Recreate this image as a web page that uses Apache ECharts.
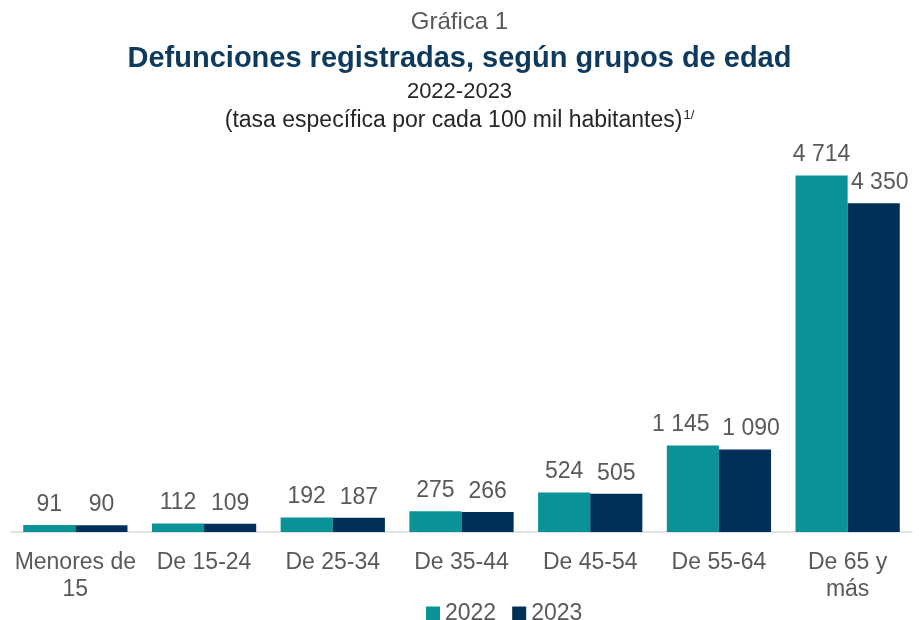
<!DOCTYPE html>
<html>
<head>
<meta charset="utf-8">
<script src="https://cdn.jsdelivr.net/npm/echarts@6/dist/echarts.min.js"></script>
<style>
  html, body { margin: 0; padding: 0; background: #fff; }
  #chart { width: 919px; height: 620px; }
</style>
</head>
<body>
<div id="chart"></div>
<script>
  // datos
  const categorias = ['Menores de\n15', 'De 15-24', 'De 25-34', 'De 35-44', 'De 45-54', 'De 55-64', 'De 65 y\nmás']
  const valores2022 = [91, 112, 192, 275, 524, 1145, 4714]
  const valores2023 = [90, 109, 187, 266, 505, 1090, 4350]

  const fuente = 'Liberation Sans, Arial, sans-serif'
  const formato = v => String(v).replace(/\B(?=(\d{3})+(?!\d))/g, ' ')

  // separa un poco las etiquetas que se encimarian
  const conDesplazamiento = (valores, desplaza) => valores.map((v, i) => {
    const dx = desplaza(i)
    return dx ? { value: v, label: { offset: [dx, 0] } } : v
  })

  const chart = echarts.init(document.getElementById('chart'))
  const etiqueta = {
    show: true,
    position: 'top',
    distance: 9,
    color: '#595959',
    fontSize: 23,
    fontFamily: fuente,
    formatter: p => formato(p.value)
  }
  const option = {
    animation: false,
    title: [
      { text: 'Gráfica 1', left: 'center', top: 5, textStyle: { fontSize: 24, fontWeight: 'normal', color: '#595959', fontFamily: fuente } },
      { text: 'Defunciones registradas, según grupos de edad', left: 'center', top: 39, textStyle: { fontSize: 29, fontWeight: 'bold', color: '#0E3A5E', fontFamily: fuente } },
      { text: '2022-2023', left: 'center', top: 76, textStyle: { fontSize: 22, fontWeight: 'normal', color: '#262626', fontFamily: fuente } },
      {
        text: '{a|(tasa específica por cada 100 mil habitantes)}{s|1/}', left: 'center', top: 104,
        textStyle: {
          fontWeight: 'normal',
          rich: {
            a: { fontSize: 23, fontWeight: 'normal', color: '#262626', fontFamily: fuente },
            s: { fontSize: 13, fontWeight: 'normal', color: '#262626', fontFamily: fuente, verticalAlign: 'top', padding: [0, 0, 10, 1] }
          }
        }
      }
    ],
    legend: {
      top: 597,
      left: 421,
      itemWidth: 14,
      itemHeight: 14,
      itemGap: 16,
      icon: 'rect',
      textStyle: { fontSize: 23, color: '#595959', fontFamily: fuente },
      data: ['2022', '2023']
    },
    grid: { left: 11, right: 7, top: 154, bottom: 88 },
    xAxis: {
      type: 'category',
      data: categorias,
      axisLine: { lineStyle: { color: '#d9d9d9', width: 1.5 } },
      axisTick: { show: false },
      axisLabel: { fontSize: 23, color: '#595959', fontFamily: fuente, margin: 17, lineHeight: 27, interval: 0 }
    },
    yAxis: {
      type: 'value',
      min: 0,
      max: 5000,
      show: false,
      splitLine: { show: false }
    },
    series: [
      { name: '2022', type: 'bar', data: conDesplazamiento(valores2022, i => i === 5 ? -12 : 0), barGap: '0%', barCategoryGap: '19%', itemStyle: { color: '#0A9396' }, label: etiqueta },
      { name: '2023', type: 'bar', data: conDesplazamiento(valores2023, i => i >= 5 ? 6 : 0), itemStyle: { color: '#003057' }, label: etiqueta }
    ]
  }
  chart.setOption(option)
</script>
</body>
</html>
